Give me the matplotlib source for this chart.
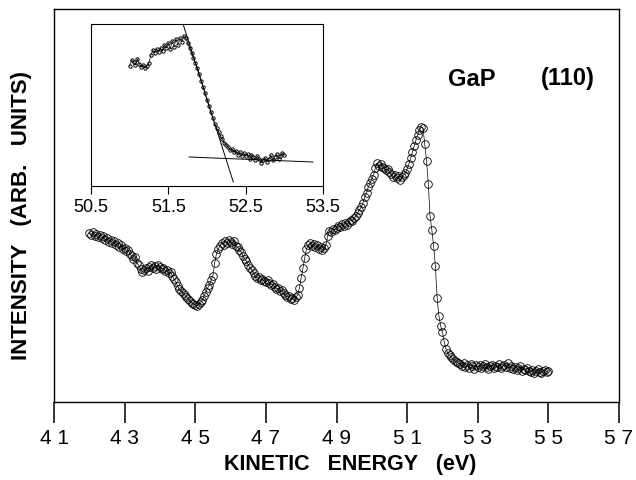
import matplotlib.pyplot as plt
import numpy as np

plt.rcParams['font.family'] = ['Liberation Sans', 'DejaVu Sans']

# main spectrum, 0.05 eV steps from 42.00 to 55.00 eV (arb. units)
e_start, e_step = 42.0, 0.05
intensity = [
    173, 171, 174, 170, 172, 169, 171, 168, 170, 166,
    168, 164, 166, 163, 165, 161, 163, 159, 161, 157,
    158, 155, 156, 152, 150, 147, 149, 143, 141, 137,
    134, 136, 138, 135, 139, 141, 138, 140, 137, 141,
    139, 137, 138, 135, 136, 133, 134, 130, 127, 124,
    120, 117, 115, 113, 111, 109, 107, 105, 103, 102,
    101, 100, 102, 104, 106, 110, 114, 118, 121, 126,
    130, 143, 152, 157, 160, 163, 161, 165, 163, 166,
    164, 162, 165, 160, 159, 156, 154, 150, 147, 145,
    141, 138, 136, 133, 130, 128, 129, 126, 127, 125,
    124, 126, 123, 121, 122, 119, 117, 118, 115, 116,
    113, 111, 109, 110, 107, 108, 106, 109, 111, 118,
    128, 138, 148, 157, 161, 163, 160, 162, 159, 161,
    157, 159, 156, 158, 161, 170, 175, 174, 177, 176,
    178, 180, 179, 182, 180, 183, 181, 184, 186, 185,
    188, 190, 193, 196, 199, 203, 209, 213, 219, 223,
    227, 231, 238, 243, 240, 242, 239, 238, 236, 237,
    234, 232, 229, 231, 228, 230, 226, 229, 231, 233,
    237, 242, 248, 254, 260, 266, 271, 276, 279, 278,
    262, 245, 222, 190, 176, 160, 140, 108, 90, 80,
    74, 64, 57, 53, 51, 49, 47, 45, 44, 43,
    42, 40, 43, 39, 41, 38, 42, 40, 37, 41,
    39, 41, 38, 40, 42, 39, 37, 40, 41, 38,
    40, 39, 42, 38, 40, 41, 39, 43, 38, 40,
    37, 39, 36, 38, 40, 35, 37, 36, 38, 35,
    34, 36, 33, 35, 37, 34, 33, 35, 36, 34,
    35,
]
energy = e_start + e_step * np.arange(len(intensity))

# inset: edge region, 0.025 eV steps from 51.000 to 53.000 eV
ins_start, ins_step = 51.0, 0.025
ins_int = [
    120, 126, 124, 121, 127, 122, 119, 121, 118, 120,
    123, 131, 136, 133, 137, 134, 138, 135, 141, 138,
    143, 137, 145, 139, 147, 141, 148, 144, 150, 148,
    143, 138, 133, 128, 123, 118, 112, 105, 99, 93,
    86, 80, 74, 68, 62, 58, 54, 50, 47, 43,
    41, 39, 36, 37, 34, 35, 31, 34, 30, 33,
    30, 32, 27, 31, 29, 26, 30, 27, 23, 26,
    28, 24, 27, 31, 26, 29, 32, 27, 30, 33,
    31,
]
ins_energy = ins_start + ins_step * np.arange(len(ins_int))

# extrapolation lines drawn in the inset
edge_x, edge_y = [51.69, 52.34], [162, 4]
base_x, base_y = [51.77, 53.37], [29, 24]

main_ticks = [41, 43, 45, 47, 49, 51, 53, 55, 57]
ins_ticks = [50.5, 51.5, 52.5, 53.5]

W, H = 636, 481
fig = plt.figure(figsize=(W / 100, H / 100), dpi=100)
ax = fig.add_axes([54/W, 1 - 403/H, 565/W, 393/H])
ax.plot(energy, intensity, '-', color='black', lw=0.5)
ax.plot(energy, intensity, 'o', mfc='none', mec='black', ms=5.5, mew=0.6)
ax.set_xlim(41, 57)
ax.set_ylim(4, 397)
ax.set_yticks([])
ax.set_xticks(main_ticks)
ax.set_xticklabels([' '.join(str(t)) for t in main_ticks], fontsize=15)
ax.tick_params(axis='x', direction='out', length=15, width=1.1, pad=4)
for s in ax.spines.values():
    s.set_linewidth(1)

fig.text(448/W, 1 - 79/H, 'GaP', fontsize=17, fontweight='bold',
         ha='left', va='center')
fig.text(595/W, 1 - 79/H, '(110)', fontsize=17, fontweight='bold',
         ha='right', va='center')

fig.text(350/W, 1 - 465/H, 'KINETIC   ENERGY   (eV)', fontsize=15.5,
         fontweight='bold', ha='center', va='center')
fig.text(22/W, 1 - 216/H, 'INTENSITY   (ARB.   UNITS)', fontsize=16,
         fontweight='bold', ha='center', va='center', rotation=90)

ins = fig.add_axes([91/W, 1 - 187/H, 232/W, 162/H])
ins.plot(ins_energy, ins_int, '-', color='black', lw=0.5)
ins.plot(ins_energy, ins_int, 'o', mfc='none', mec='black', ms=2.4, mew=0.7)
ins.plot(edge_x, edge_y, '-', color='black', lw=0.7)
ins.plot(base_x, base_y, '-', color='black', lw=0.7)
ins.set_xlim(50.5, 53.5)
ins.set_ylim(0, 162)
ins.set_yticks([])
ins.set_xticks(ins_ticks)
ins.set_xticklabels([str(t) for t in ins_ticks], fontsize=13)
ins.tick_params(axis='x', direction='out', length=6, width=0.8, pad=3)
for s in ins.spines.values():
    s.set_linewidth(0.8)

fig.savefig('out.png', dpi=100)
